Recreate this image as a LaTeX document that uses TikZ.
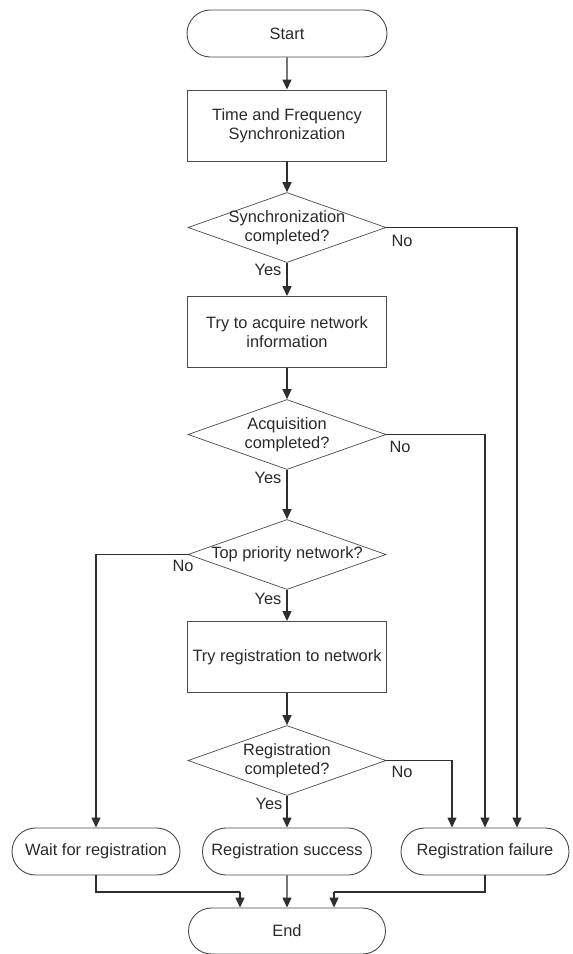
\documentclass[tikz,border=0pt]{standalone}
\usepackage{fontspec}
\setmainfont{Liberation Sans}
\usetikzlibrary{shapes.geometric,shapes.misc,arrows.meta}
\definecolor{txt}{HTML}{2A2A2A}
\definecolor{edge}{HTML}{4A4A4A}
\definecolor{conn}{HTML}{2E2E2E}
\begin{document}
\begin{tikzpicture}[x=1pt,y=-1pt,
  every node/.style={font=\fontsize{16.4}{19}\selectfont, text=txt},
  term/.style={draw=edge, line width=0.9pt, rounded rectangle, minimum height=47pt, inner sep=0pt},
  proc/.style={draw=edge, line width=0.9pt, rectangle, minimum width=199pt, minimum height=71pt, inner sep=0pt, align=center},
  decision/.style={draw=edge, line width=0.7pt, diamond, minimum width=198pt, minimum height=70pt, inner sep=0pt},
  flow/.style={draw=conn, line width=1.3pt, -{Triangle[length=10pt,width=9pt]}},
  line/.style={draw=conn, line width=1.3pt},
  lbl/.style={inner sep=0pt}]
\useasboundingbox (0,0) rectangle (573,954);

% main column
\node[term, minimum width=200pt] (start) at (287,33.5) {Start};
\node[proc] (sync) at (287,125.5) {Time and Frequency\\Synchronization};
\node[decision] (d1) at (287,227.5) {};
\node[align=center] (d1t) at (d1) {Synchronization\\completed?};
\node[proc] (acq) at (287,332) {Try to acquire network\\information};
\node[decision] (d2) at (287,434.5) {};
\node[align=center] (d2t) at (d2) {Acquisition\\completed?};
\node[decision] (d3) at (287,554.5) {};
\node (d3t) at (d3) {Top priority network?};
\node[proc] (reg) at (287,657) {Try registration to network};
\node[decision] (d4) at (287,760.5) {};
\node[align=center] (d4t) at (d4) {Registration\\completed?};

% outcomes
\node[term, minimum width=168pt] (wait) at (96,851.5) {Wait for registration};
\node[term, minimum width=169pt] (succ) at (287,851.5) {Registration success};
\node[term, minimum width=168pt] (fail) at (485,851.5) {Registration failure};
\node[term, minimum width=197pt, minimum height=46pt] (end) at (287,931) {End};

% branch labels
\node[lbl] (y1) at (268,270) {Yes};
\node[lbl] (n1) at (402,241) {No};
\node[lbl] (y2) at (268,478) {Yes};
\node[lbl] (n2) at (400,447) {No};
\node[lbl] (y3) at (268,599) {Yes};
\node[lbl] (n3) at (183,566) {No};
\node[lbl] (y4) at (269,804) {Yes};
\node[lbl] (n4) at (402,772) {No};

% junction points
\coordinate (j1) at (517,227.5);
\coordinate (j2) at (485,434.5);
\coordinate (j3) at (96,554.5);
\coordinate (j4) at (452,760.5);
\coordinate (w1) at (96,892);
\coordinate (w2) at (240,892);
\coordinate (f1) at (485,892);
\coordinate (f2) at (334,892);

% connectors
\draw[flow] (start) -- (sync);
\draw[flow] (sync) -- (d1);
\draw[flow] (d1) -- (acq);
\draw[flow] (acq) -- (d2);
\draw[flow] (d2) -- (d3);
\draw[flow] (d3) -- (reg);
\draw[flow] (reg) -- (d4);
\draw[flow] (d4) -- (succ);
\draw[flow] (d1.east) -- (j1) -- (j1 |- fail.north);
\draw[flow] (d2.east) -- (j2) -- (fail.north);
\draw[flow] (d4.east) -- (j4) -- (j4 |- fail.north);
\draw[flow] (d3.west) -- (j3) -- (wait.north);
\draw[line] (wait.south) -- (w1) -- (w2);
\draw[flow] (w2) -- (w2 |- end.north);
\draw[flow] (succ) -- (end);
\draw[line] (fail.south) -- (f1) -- (f2);
\draw[flow] (f2) -- (f2 |- end.north);
\end{tikzpicture}
\end{document}
